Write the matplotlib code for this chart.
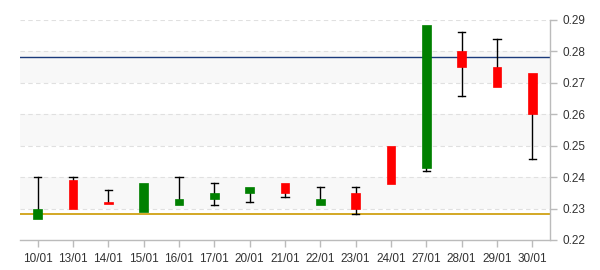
import matplotlib
matplotlib.use("Agg")
import matplotlib.pyplot as plt
import numpy as np

plt.rcParams['font.family'] = ['Liberation Sans', 'DejaVu Sans']

dates = ["10/01", "13/01", "14/01", "15/01", "16/01", "17/01", "20/01", "21/01",
         "22/01", "23/01", "24/01", "27/01", "28/01", "29/01", "30/01"]
opens = [0.2267, 0.2390, 0.2322, 0.2290, 0.2310, 0.2330, 0.2350, 0.2380,
         0.2310, 0.2350, 0.2500, 0.2430, 0.2800, 0.2750, 0.2730]
highs = [0.2400, 0.2400, 0.2360, 0.2380, 0.2400, 0.2380, 0.2370, 0.2380,
         0.2370, 0.2370, 0.2500, 0.2883, 0.2863, 0.2840, 0.2730]
lows = [0.2267, 0.2300, 0.2316, 0.2290, 0.2310, 0.2310, 0.2320, 0.2338,
        0.2310, 0.2282, 0.2378, 0.2421, 0.2658, 0.2686, 0.2458]
closes = [0.2300, 0.2300, 0.2316, 0.2380, 0.2330, 0.2350, 0.2370, 0.2350,
          0.2330, 0.2300, 0.2378, 0.2883, 0.2750, 0.2686, 0.2600]
ref_high = 0.2782
ref_low = 0.2282
yticks = [0.22, 0.23, 0.24, 0.25, 0.26, 0.27, 0.28, 0.29]
bands = [(0.23, 0.24), (0.25, 0.26), (0.27, 0.28)]

fig = plt.figure(figsize=(6, 2.7), dpi=100)
ax = fig.add_axes([20/600, 30/270, 530/600, 220/270])
x = np.arange(len(dates))
ax.set_xlim(-0.5, len(dates) - 0.5)
ax.set_ylim(0.22, 0.29)

for lo, hi in bands:
    ax.axhspan(lo, hi, color="#f8f8f8", zorder=0, lw=0)
for t in yticks[1:]:
    ax.axhline(t, color="#e0e0e0", lw=0.8, ls=(0, (4, 3)), zorder=1)

ax.axhline(ref_high, color="#1a3a7a", lw=1, zorder=2)
ax.axhline(ref_low, color="#cc9900", lw=1.2, zorder=2)

bw = 0.25
cap = 0.1
for i in range(len(dates)):
    o, h, l, c = opens[i], highs[i], lows[i], closes[i]
    col = "#008000" if c >= o else "#ff0000"
    top, bot = max(o, c), min(o, c)
    if h > top + 1e-6:
        ax.plot([x[i], x[i]], [top, h], color="black", lw=1, zorder=3)
        ax.plot([x[i] - cap, x[i] + cap], [h, h], color="black", lw=1, zorder=3)
    if l < bot - 1e-6:
        ax.plot([x[i], x[i]], [l, bot], color="black", lw=1, zorder=3)
        ax.plot([x[i] - cap, x[i] + cap], [l, l], color="black", lw=1, zorder=3)
    ax.bar(x[i], max(top - bot, 0.0006), bottom=bot, width=bw, color=col,
           edgecolor=col, lw=0.5, zorder=4)

ax.set_xticks(x)
ax.set_xticklabels(dates)
ax.set_yticks(yticks)
ax.set_yticklabels([f"{t:.2f}" for t in yticks])
ax.yaxis.tick_right()
for s in ["top", "left"]:
    ax.spines[s].set_visible(False)
for s in ["bottom", "right"]:
    ax.spines[s].set_color("#bbbbbb")
    ax.spines[s].set_linewidth(1)
ax.tick_params(axis="both", colors="#bbbbbb", labelcolor="#333333",
               labelsize=8.5, length=5, width=1)
ax.tick_params(axis="x", pad=4)
ax.tick_params(axis="y", pad=4)

fig.savefig("out.png", dpi=100)
